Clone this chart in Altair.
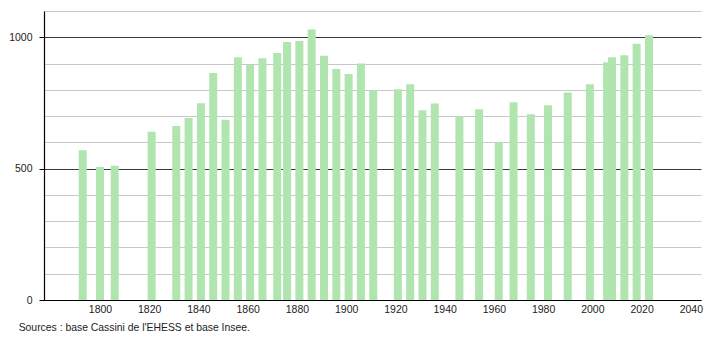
import altair as alt
import pandas as pd

years = [1793, 1800, 1806, 1821, 1831, 1836, 1841, 1846, 1851, 1856, 1861, 1866,
         1872, 1876, 1881, 1886, 1891, 1896, 1901, 1906, 1911, 1921, 1926, 1931,
         1936, 1946, 1954, 1962, 1968, 1975, 1982, 1990, 1999, 2006, 2008, 2013,
         2018, 2023]
population = [570, 506, 511, 640, 662, 693, 749, 864, 686, 924, 894, 920,
              940, 982, 986, 1030, 930, 879, 860, 900, 797, 802, 821, 722,
              748, 700, 726, 600, 753, 707, 741, 790, 821, 905, 924, 932,
              975, 1008]
x_ticks = [1800, 1820, 1840, 1860, 1880, 1900, 1920, 1940, 1960, 1980, 2000, 2020, 2040]
y_grid = list(range(0, 1101, 100))
source_text = "Sources : base Cassini de l'EHESS et base Insee."

df = pd.DataFrame({"year": years, "pop": population})

FONT = "Liberation Sans"

bars = alt.Chart(df).mark_bar(size=8, color="#b0e5b0").encode(
    x=alt.X("year:Q",
            scale=alt.Scale(domain=[1779.3, 2042.1], nice=False, zero=False),
            axis=alt.Axis(values=x_ticks, title=None, ticks=False, grid=False,
                          domainColor="#000000", domainWidth=1.2,
                          labelFont=FONT, labelFontSize=10.5, labelColor="#222222",
                          labelPadding=4, format="d", labelFlush=False)),
    y=alt.Y("pop:Q",
            scale=alt.Scale(domain=[0, 1100], nice=False),
            axis=alt.Axis(values=y_grid, title=None,
                          labelExpr="datum.value % 500 === 0 ? datum.label : ''",
                          tickOpacity=alt.condition("datum.value % 500 === 0", alt.value(1), alt.value(0)),
                          gridColor=alt.condition("datum.value % 500 === 0", alt.value("#3a3a3a"), alt.value("#c8c8c8")),
                          tickColor="#000000", tickSize=5, domainColor="#000000", domainWidth=1.2,
                          labelFont=FONT, labelFontSize=10.5, labelColor="#222222",
                          labelPadding=7, format="d")),
)

chart = bars.properties(
    width=657,
    height=289,
    autosize=alt.AutoSizeParams(type="none"),
    padding={"left": 44, "top": 11, "right": 9, "bottom": 40},
    title=alt.TitleParams(source_text, orient="bottom", anchor="start", dx=10,
                          offset=8, font=FONT, fontSize=10.4, fontWeight="normal",
                          color="#222222"),
).configure_view(stroke=None).configure_axis(gridWidth=1)

chart.save("out.html", embed_options={"renderer": "svg", "actions": False})
